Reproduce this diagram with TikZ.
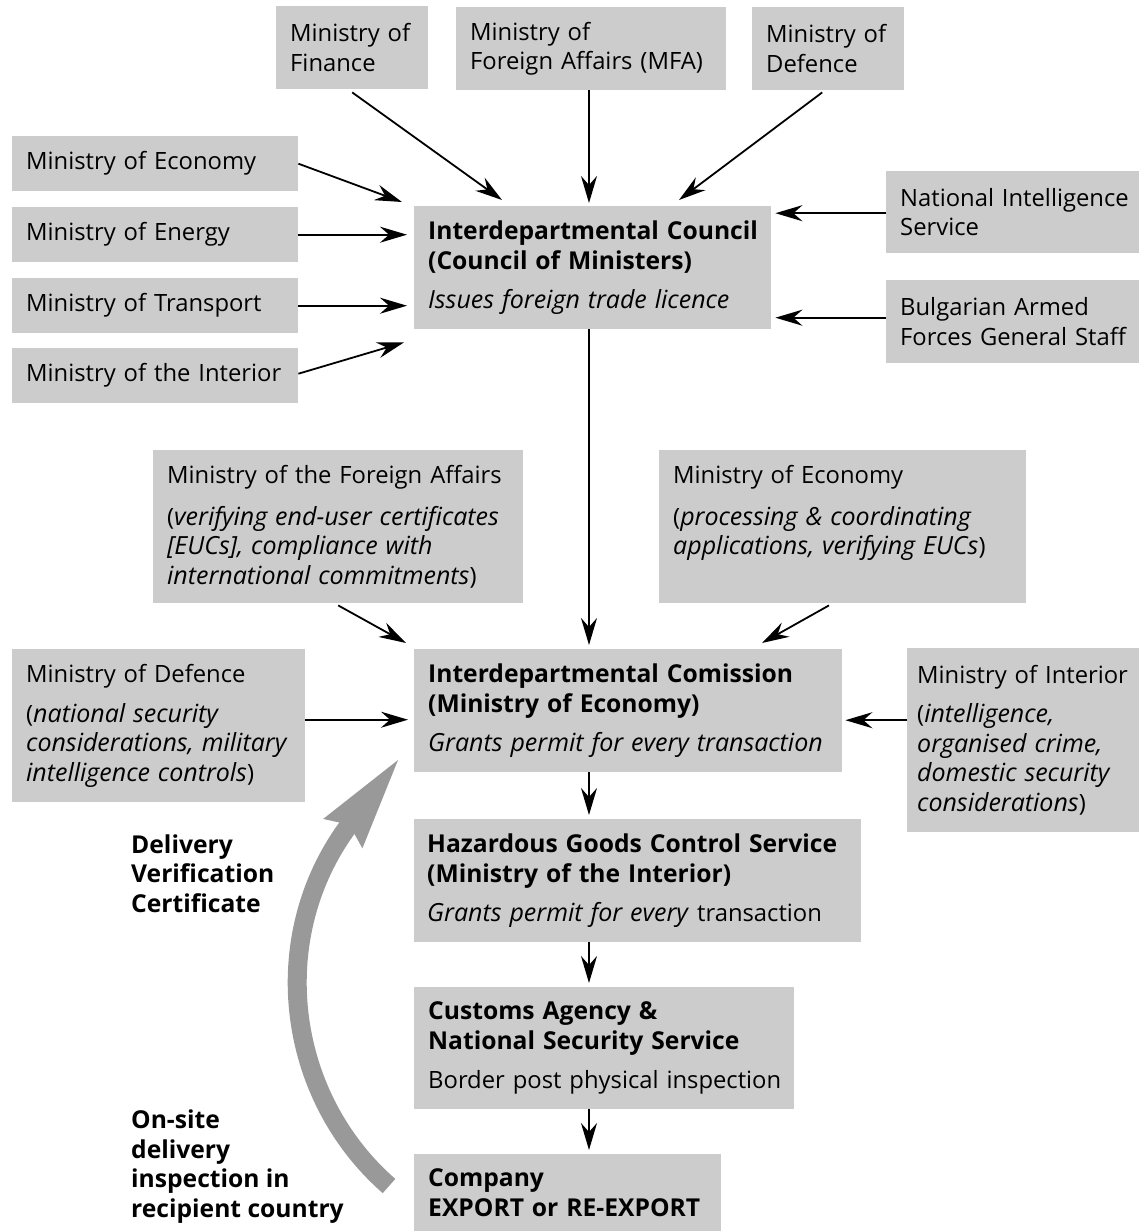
\documentclass[tikz,border=0pt]{standalone}
\usepackage{fontspec}
\setmainfont{Open Sans}[BoldFeatures={Scale=1.035},ItalicFeatures={Scale=1.05}]
\usepackage{tikz}
\usetikzlibrary{arrows.meta}
\definecolor{boxgrey}{HTML}{CCCCCC}
\definecolor{loopgrey}{HTML}{999999}
\newcommand{\boxfont}{\fontsize{23.8pt}{29.5pt}\selectfont}
% lines only break where \\ says so
\newcommand{\nobreaklines}{\hyphenpenalty=10000\rightskip=0pt plus 1fil minus 60pt}
\tikzstyle{box}=[rectangle,fill=boxgrey,anchor=north west,inner xsep=14pt,inner ysep=0pt,align=left,font=\boxfont,execute at begin node=\nobreaklines]
\tikzstyle{note}=[anchor=base west,inner sep=0pt,align=left,font=\boxfont\bfseries]
\tikzstyle{edge}=[draw,line width=1.8pt,-{Stealth[length=27pt,width=16pt,inset=9pt]}]
\tikzstyle{return arrow}=[draw=loopgrey,line width=19pt,-{Stealth[length=92pt,width=49pt,inset=11pt,line width=0pt]}]

\begin{document}
\begin{tikzpicture}[x=1pt,y=-1pt]
    \useasboundingbox (0,0) rectangle (1139,1231);
    % Ministries feeding the council
    \node[box,text width=124pt,minimum height=83pt] (fin) at (276,6) {Ministry of\\Finance};
    \node[box,text width=242pt,minimum height=83pt] (mfa) at (456,7) {Ministry of\\Foreign Affairs (MFA)};
    \node[box,text width=124pt,minimum height=83pt] (def) at (752,7) {Ministry of\\Defence};
    \foreach \ypos/\name/\dept in {136/eco/Economy, 207/ene/Energy, 278/tra/Transport, 348/inti/the Interior}
        \node[box,text width=258pt,minimum height=55pt] (\name) at (12,\ypos) {Ministry of \dept};
    % (these run off the right edge of the page)
    \node[box,text width=245pt,minimum height=82pt] (nis) at (886,171) {National Intelligence\\Service};
    \node[box,text width=245pt,minimum height=83pt] (baf) at (886,280) {Bulgarian Armed\\Forces General Staff};

    % The council
    \node[box,text width=329pt,minimum height=123pt] (council) at (414,206)
        {\textbf{Interdepartmental Council}\\\textbf{(Council of Ministers)}\\[10pt]\textit{Issues foreign trade licence}};

    % Ministries feeding the commission
    \node[box,text width=342pt,minimum height=153pt] (mfa2) at (153,450)
        {Ministry of the Foreign Affairs\\[12pt](\textit{verifying end-user certificates}\\\textit{[EUCs], compliance with}\\\textit{international commitments})};
    \node[box,text width=339pt,minimum height=153pt] (eco2) at (659,450)
        {Ministry of Economy\\[12pt](\textit{processing \& coordinating}\\\textit{applications, verifying EUCs})\\[4pt]\mbox{}};
    \node[box,text width=265pt,minimum height=153pt] (def2) at (12,649)
        {Ministry of Defence\\[10pt](\textit{national security}\\\textit{considerations, military}\\\textit{intelligence controls})};
    \node[box,inner xsep=10pt,text width=240pt,minimum height=184pt] (int2) at (907,648)
        {Ministry of Interior\\[10pt](\textit{intelligence,}\\\textit{organised crime,}\\\textit{domestic security}\\\textit{considerations})};

    % Main chain
    \node[box,text width=400pt,minimum height=123pt] (com) at (414,649)
        {\textbf{Interdepartmental Comission}\\\textbf{(Ministry of Economy)}\\[10pt]\textit{Grants permit for every transaction}};
    \node[box,inner xsep=13pt,text width=421pt,minimum height=123pt] (haz) at (414,819)
        {\textbf{Hazardous Goods Control Service}\\\textbf{(Ministry of the Interior)}\\[10pt]\textit{Grants permit for every} transaction};
    \node[box,text width=352pt,minimum height=122pt] (cus) at (414,987)
        {\textbf{Customs Agency \&}\\\textbf{National Security Service}\\[10pt]Border post physical inspection};
    \node[box,text width=279pt,minimum height=77pt] (comp) at (414,1154)
        {\textbf{Company}\\\textbf{EXPORT or RE-EXPORT}};

    % Notes beside the return arrow (placed by their last line)
    \node[note] (dvc) at (131,912) {Delivery\\Verification\\Certificate};
    \node[note] (onsite) at (131,1217) {On-site\\delivery\\inspection in\\recipient country};

    % Arrows into the council
    \coordinate (spine) at (589,0);
    \path[edge] ([yshift=-3pt]fin.south) -- ([shift={(88pt,6pt)}]council.north west);
    \path[edge,shorten >=3pt] (spine |- mfa.south) -- (spine |- council.north);
    \path[edge] ([shift={(-6pt,-2pt)}]def.south) -- ([shift={(265pt,6pt)}]council.north west);
    \path[edge] (eco.east) -- ([shift={(-12pt,4pt)}]council.north west);
    \foreach \source in {ene,tra}
        \path[edge,shorten >=7pt] (\source.east) -- (\source.east -| council.west);
    \path[edge] ([yshift=2pt]inti.east) -- ([shift={(-10pt,-13pt)}]council.south west);
    \path[edge,shorten >=4pt] ([yshift=-1pt]nis.west) -- ([yshift=-1pt]nis.west -| council.east);
    \path[edge,shorten >=4pt] ([yshift=4pt]baf.west) -- ([yshift=4pt]baf.west -| council.east);

    % Arrows into the commission
    \path[edge] ([yshift=-2pt]mfa2.south) -- ([shift={(-8pt,6pt)}]com.north west);
    \path[edge] ([shift={(170pt,-2pt)}]eco2.south west) -- ([shift={(348pt,6pt)}]com.north west);
    \path[edge,shorten >=6pt] ([yshift=6pt]def2.east) -- ([yshift=6pt]def2.east -| com.west);
    \path[edge,shorten >=3pt] ([yshift=20pt]int2.west) -- ([yshift=20pt]int2.west -| com.east);

    % Down the chain
    \foreach \source/\dest in {council/com, com/haz, haz/cus, cus/comp}
        \path[edge,shorten >=4pt] (spine |- \source.south) -- (spine |- \dest.north);

    % Return loop from the recipient country
    \coordinate (loop tail) at (389,1186);
    \coordinate (loop tip) at (398,760);
    \path[return arrow] (loop tail) .. controls (285,1095) and (266,936) .. (loop tip);
\end{tikzpicture}
\end{document}
